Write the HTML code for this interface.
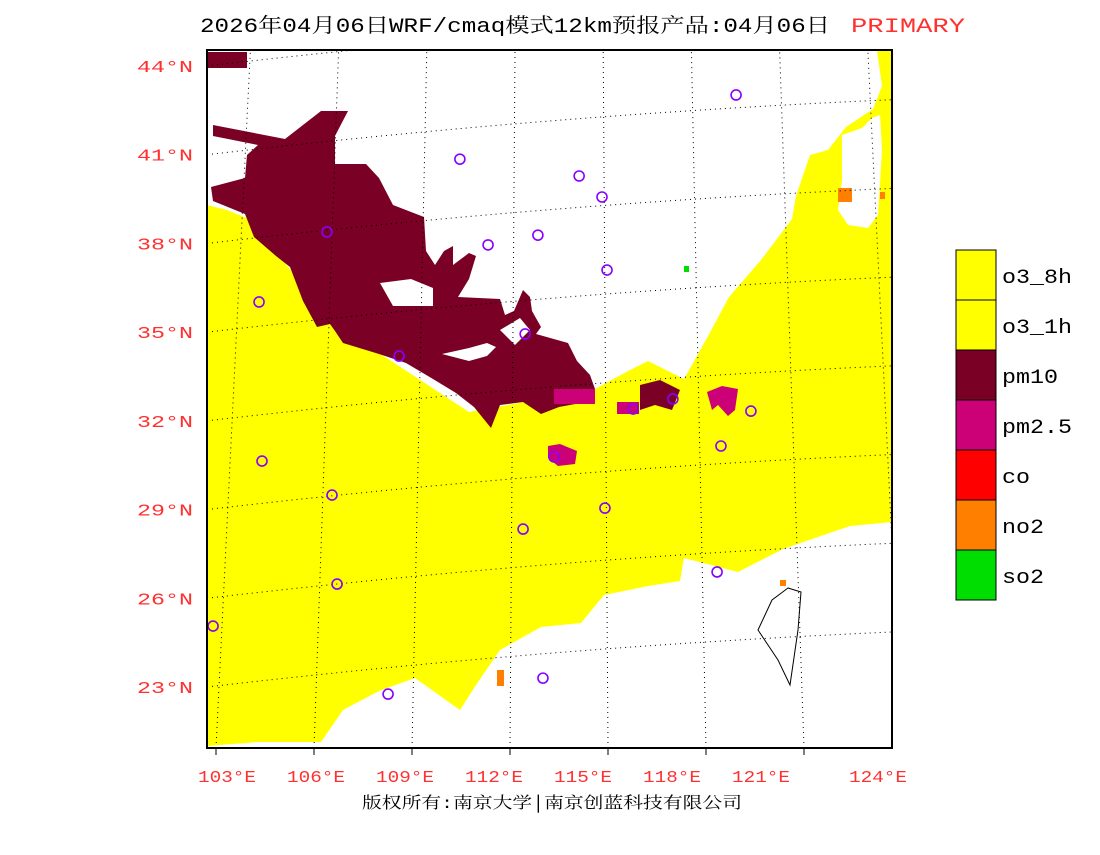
<!DOCTYPE html>
<html><head><meta charset="utf-8"><style>
body{margin:0;background:#fff;width:1100px;height:850px;overflow:hidden}
svg text{font-family:"Liberation Mono","Noto Serif CJK SC","Noto Sans CJK SC",monospace}
</style></head><body>
<svg id="chart" width="1100" height="850">
<defs><clipPath id="frameclip"><rect x="207" y="50" width="685" height="698"/></clipPath></defs>
<text x="200" y="32" font-size="20" fill="#000" textLength="630" lengthAdjust="spacingAndGlyphs">2026年04月06日WRF/cmaq模式12km预报产品:04月06日</text>
<text x="851" y="32" font-size="20" fill="#ff3030" textLength="114" lengthAdjust="spacingAndGlyphs">PRIMARY</text>
<g id="map">
<rect x="207" y="50" width="685" height="698" fill="#fff"/>
<polygon fill="#ffff00" points="207,205 227,210 249,219 335,324 469,412 595,389 630,370 648,361 684,379 707,338 729,297 761,260 792,219 796,196 810,155 828,150 846,127 873,109 882,86 877,51 892,51 892,522 850,526 783,549 738,572 684,558 680,581 648,586 604,595 581,623 541,627 500,650 478,682 460,710 415,678 379,691 343,710 321,742 258,742 207,746"/>
<polygon fill="#fff" points="842,135 862,128 872,118 880,115 882,150 878,215 868,228 848,225 838,210 842,180"/>
<polygon fill="#7a0025" points="213,125 285,139 321,111 348,111 335,136 335,164 366,164 379,178 393,205 424,217 426,251 435,265 444,251 453,246 453,265 469,253 476,256 469,279 458,297 500,299 505,315 514,311 523,290 530,297 532,311 541,327 536,334 568,343 577,361 590,375 595,389 586,402 559,407 541,414 523,402 500,405 491,428 474,407 456,393 433,379 406,363 379,354 343,343 335,331 330,324 317,327 303,301 290,267 276,256 254,237 245,214 213,201 211,187 245,178 247,155 258,145 213,136"/>
<polygon fill="#fff" points="442,354 469,361 487,356 496,347 487,343 469,348 451,352"/>
<polygon fill="#fff" points="380,283 411,279 433,288 433,306 393,306"/>
<polygon fill="#fff" points="500,330 520,318 530,330 515,345"/>
<rect x="207" y="52" width="40" height="16" fill="#7a0025"/>
<polygon fill="#7a0025" points="640,385 660,380 680,390 672,410 655,405 640,410"/>
<g fill="#cc0077">
<polygon points="707,392 722,386 738,389 735,410 728,416 718,405 712,410"/>
<rect x="554" y="389" width="41" height="15"/>
<rect x="617" y="402" width="22" height="12"/>
<polygon points="548,446 560,444 577,451 575,464 558,466 548,458"/>
</g>
<g fill="#ff7f00"><rect x="838" y="188" width="14" height="14"/><rect x="497" y="670" width="7" height="16"/><rect x="780" y="580" width="6" height="6"/><rect x="880" y="192" width="5" height="7"/></g>
<g fill="#00dd00"><rect x="684" y="266" width="5" height="6"/></g>
<polygon fill="none" stroke="#000" stroke-width="1" points="788,588 801,592 798,630 790,685 778,660 758,630 772,600"/>
<g id="grid" clip-path="url(#frameclip)" stroke="#000" stroke-width="1" stroke-dasharray="1,4" fill="none"></g>
<g id="circles" stroke="#8800ff" stroke-width="1.6" fill="none"></g>
<rect x="207" y="50" width="685" height="698" fill="none" stroke="#000" stroke-width="2"/>
</g>
<g id="axes"></g>
<g id="legend"></g>
<text x="362" y="808" font-size="16" fill="#000" textLength="380" lengthAdjust="spacingAndGlyphs">版权所有:南京大学│南京创蓝科技有限公司</text>
</svg>
<script>
const latLabels=["44°N","41°N","38°N","35°N","32°N","29°N","26°N","23°N"];
const latValues=[44,41,38,35,32,29,26,23];
const lonLabels=["103°E","106°E","109°E","112°E","115°E","118°E","121°E","124°E"];
const lonValues=[103,106,109,112,115,118,121,124];
const legendLabels=["o3_8h","o3_1h","pm10","pm2.5","co","no2","so2"];
const legendColors=["#ffff00","#ffff00","#7a0025","#cc0077","#ff0000","#ff7f00","#00dd00"];
const cityLon=[120.16,110.85,114.87,115.64,106.37,111.80,113.48,115.81,104.08,113.05,108.80,118.03,116.69,120.66,119.65,114.02,104.18,106.54,115.74,112.98,119.52,106.71,102.53,113.65,108.43];
const cityLat=[43.02,40.85,40.28,39.57,38.39,37.95,38.28,37.10,36.02,34.94,34.19,32.74,32.40,32.33,31.15,30.78,30.64,29.49,29.05,28.34,26.89,26.48,25.06,23.30,22.76];
const NS="http://www.w3.org/2000/svg";
function yLat(v){return 66+(44-v)*(621/21);}
function xLon(v){return 227+(v-103)*(89/3);}
function mk(t,a,p){const e=document.createElementNS(NS,t);for(const k in a)e.setAttribute(k,a[k]);p.appendChild(e);return e;}
const grid=document.getElementById('grid'),axes=document.getElementById('axes'),leg=document.getElementById('legend'),circ=document.getElementById('circles');
latValues.forEach((v,i)=>{
 const y=yLat(v);
 const l=mk('path',{d:`M207 ${y} Q550 ${y-40} 892 ${y-55}`},grid);
 
 
 const t=mk('text',{x:137,y:y+6,'font-size':17,fill:'#ff3030',textLength:56,lengthAdjust:'spacingAndGlyphs'},axes);
 t.textContent=latLabels[i];
 
 
});
lonValues.forEach((v,i)=>{
 const x=xLon(v);
 const bx=216+(v-103)*98/3;
 const l=mk('line',{x1:bx,y1:748,x2:560+(bx-560)*0.9,y2:50},grid);
 
 
 if(bx<892) mk('line',{x1:bx,y1:748,x2:bx,y2:755,stroke:'#000'},axes);
 const t=mk('text',{x:(i==7?878:x)-29,y:782,'font-size':17,fill:'#ff3030',textLength:58,lengthAdjust:'spacingAndGlyphs'},axes);
 t.textContent=lonLabels[i];
 
 
});
cityLon.forEach((v,i)=>{
 const c=mk('circle',{cx:xLon(v),cy:yLat(cityLat[i]),r:5},circ);
 
 
});
legendLabels.forEach((lab,i)=>{
 const y=250+i*50;
 const r=mk('rect',{x:956,y:y,width:40,height:50,fill:legendColors[i],stroke:'#000','stroke-width':1},leg);
 
 
 const t=mk('text',{x:1002,y:y+33,'font-size':20,fill:'#000',textLength:lab.length*14,lengthAdjust:'spacingAndGlyphs'},leg);
 t.textContent=lab;
 
 
});
</script>
</body></html>
